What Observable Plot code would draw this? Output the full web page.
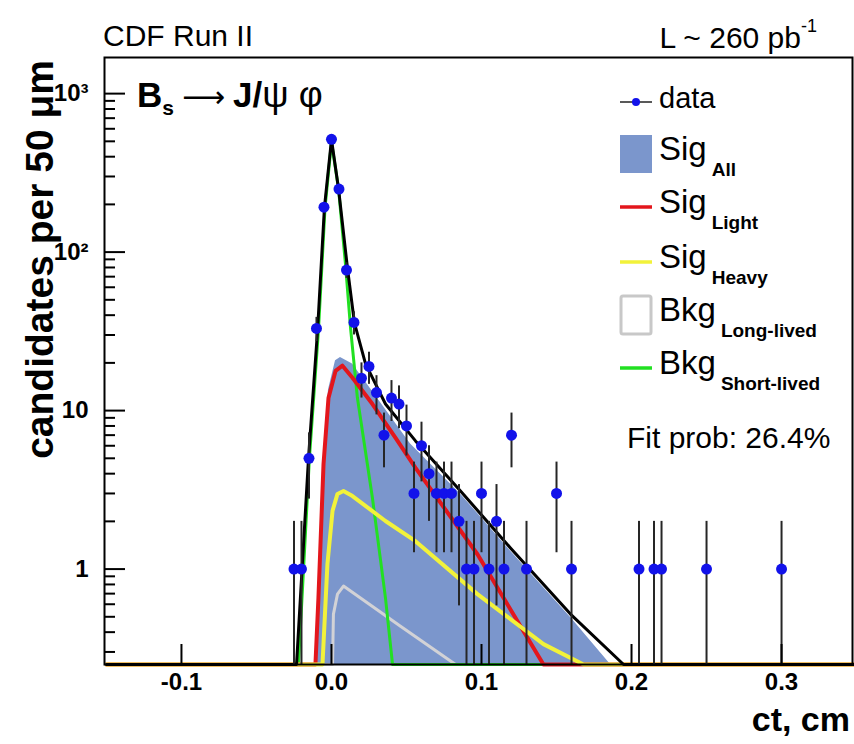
<!DOCTYPE html>
<html><head><meta charset="utf-8">
<script src="https://cdn.jsdelivr.net/npm/d3@7"></script>
<script src="https://cdn.jsdelivr.net/npm/@observablehq/plot@0.6"></script>
<style>html,body{margin:0;padding:0;background:#fff} svg{display:block}</style>
</head><body><div id="chart"></div>
<script>
// ---- data: B_s -> J/psi phi proper decay length (ct, cm), candidates per 50 um ----
const dataCt = [-0.025,-0.02,-0.015,-0.01,-0.005,0,0.005,0.01,0.015,0.02,0.025,0.03,0.035,0.04,0.045,0.05,0.055,0.06,0.065,0.07,0.075,0.08,0.085,0.09,0.095,0.1,0.105,0.11,0.115,0.12,0.13,0.15,0.16,0.205,0.215,0.22,0.25,0.3];
const dataN  = [1,1,5,33,192,515,250,77,36,16,19,13,7,12,11,8,3,6,4,3,3,3,2,1,1,3,1,2,1,7,1,3,1,1,1,1,1,1];

// fit curves
const totalCt  = [-0.15,-0.0233,-0.0153,-0.0093,-0.0047,0,0.0047,0.0107,0.0153,0.0227,0.036,0.056,0.086,0.1193,0.1593,0.1947,0.35];
const totalVal = [0.25,0.25,5.03,31.9,190.7,513,251,78.5,35.8,19.7,11.0,6.44,3.11,1.36,0.52,0.25,0.25];

const sigAllCt  = [-0.0107,-0.0087,-0.0053,-0.002,0.0027,0.006,0.014,0.0247,0.0527,0.086,0.1193,0.1593,0.186];
const sigAllVal = [0.25,0.75,5.0,13.5,20.6,21.6,19.7,14.3,6.16,2.98,1.30,0.497,0.25];

const sigLightCt  = [-0.15,-0.0107,-0.0087,-0.0053,-0.002,0.0027,0.0073,0.014,0.0273,0.0427,0.056,0.0973,0.1413,0.35];
const sigLightVal = [0.25,0.25,0.656,4.61,12.0,17.8,19.2,16.1,11.0,6.72,4.35,1.24,0.25,0.25];

const sigHeavyCt  = [-0.15,-0.006,-0.0027,0.0007,0.004,0.008,0.014,0.036,0.056,0.0973,0.1413,0.168,0.35];
const sigHeavyVal = [0.25,0.25,1.075,2.33,2.98,3.11,2.89,2.01,1.50,0.695,0.336,0.25,0.25];

const bkgLongCt  = [-0.15,0.0007,0.0013,0.004,0.008,0.046,0.0827,0.35];
const bkgLongVal = [0.25,0.25,0.52,0.695,0.781,0.436,0.25,0.25];

const bkgShortCt  = [-0.15,-0.022,-0.0147,-0.0087,-0.0043,0,0.0047,0.0093,0.0127,0.0173,0.0273,0.036,0.0407,0.35];
const bkgShortVal = [0.25,0.25,5.03,31.9,190.7,495,251,84.5,33.3,12.0,2.81,0.656,0.25,0.25];

const xTickValues = [-0.1,0,0.1,0.2,0.3];
const yTickValues = [1,10,100,1000];
const yTickLabels = ["1","10","10²","10³"];
const yMinorTicks = [0.3,0.4,0.5,0.6,0.7,0.8,0.9,2,3,4,5,6,7,8,9,20,30,40,50,60,70,80,90,200,300,400,500,600,700,800,900];

const legendEntries = [
  {main:"data", sub:"", kind:"data"},
  {main:"Sig", sub:"All", kind:"box", color:"#7b96cc"},
  {main:"Sig", sub:"Light", kind:"line", color:"#e3161c"},
  {main:"Sig", sub:"Heavy", kind:"line", color:"#f2f23a"},
  {main:"Bkg", sub:"Long-lived", kind:"hollow", color:"#c8c8c8"},
  {main:"Bkg", sub:"Short-lived", kind:"line", color:"#22e022"}
];

// ---- build tables ----
const zip = (xs, ys) => xs.map((x, i) => ({ct: x, v: ys[i]}));
const points = dataCt.map((x, i) => {
  const n = dataN[i], e = Math.sqrt(n);
  return {ct: x, n, lo: Math.max(n - e, 0.25), hi: n + e};
});
const YMIN = 0.25;
const W = 854, H = 744, ML = 104, MR = 2, MT = 57, MB = 80;
const frameW = W - ML - MR, frameH = H - MT - MB;
const FONT = "Liberation Sans, Arial, Helvetica, sans-serif";

const plot = Plot.plot({
  width: W, height: H,
  marginLeft: ML, marginRight: MR, marginTop: MT, marginBottom: MB,
  style: {fontFamily: FONT, background: "white", color: "black"},
  x: {domain: [-0.1513, 0.3473]},
  y: {type: "log", domain: [YMIN, 1690], clamp: true},
  marks: [
    Plot.areaY(zip(sigAllCt, sigAllVal), {x: "ct", y1: () => YMIN, y2: "v", fill: "#7b96cc"}),
    Plot.line(zip(bkgLongCt, bkgLongVal), {x: "ct", y: "v", stroke: "#d2d2d6", strokeWidth: 3}),
    Plot.line(zip(bkgShortCt, bkgShortVal), {x: "ct", y: "v", stroke: "#22e022", strokeWidth: 3}),
    Plot.line(zip(sigLightCt, sigLightVal), {x: "ct", y: "v", stroke: "#e3161c", strokeWidth: 4}),
    Plot.line(zip(sigHeavyCt, sigHeavyVal), {x: "ct", y: "v", stroke: "#f2f23a", strokeWidth: 4}),
    Plot.line(zip(totalCt, totalVal), {x: "ct", y: "v", stroke: "black", strokeWidth: 3}),
    Plot.ruleX(points, {x: "ct", y1: "lo", y2: "hi", stroke: "#262626", strokeWidth: 2}),
    Plot.dot(points, {x: "ct", y: "n", r: 5.5, fill: "#1212ea", stroke: "none"}),
    // tick labels
    Plot.axisX({ticks: xTickValues, tickSize: 0, tickPadding: 8, tickFormat: d => d.toFixed(1), fontSize: 24, fontWeight: "bold", label: null}),
    Plot.axisY({ticks: yTickValues, tickSize: 0, tickPadding: 16, tickFormat: d => yTickLabels[yTickValues.indexOf(d)], fontSize: 24, fontWeight: "bold", label: null}),
    Plot.frame({stroke: "black", strokeWidth: 2}),
    // inward ticks (ROOT style), drawn over the frame
    Plot.tickX(xTickValues, {x: d => d, insetTop: frameH - 20, stroke: "black", strokeWidth: 2}),
    Plot.tickY(yTickValues, {y: d => d, insetRight: frameW - 21, stroke: "black", strokeWidth: 2}),
    Plot.tickY(yMinorTicks, {y: d => d, insetRight: frameW - 11, stroke: "black", strokeWidth: 2})
  ]
});
document.getElementById("chart").appendChild(plot);

// ---- annotations & legend ----
const svg = d3.select(plot);
const g = svg.append("g").attr("font-family", FONT).attr("fill", "black").attr("text-anchor", "start");

g.append("text").attr("x", 103).attr("y", 46).attr("font-size", 30).text("CDF Run II");
const lum = g.append("text").attr("x", 817).attr("y", 48).attr("font-size", 30).attr("text-anchor", "end");
lum.append("tspan").text("L ~ 260 pb");
lum.append("tspan").attr("dy", -16).attr("font-size", 18).text("-1");

const title = g.append("text").attr("x", 137).attr("y", 107).attr("font-size", 35).attr("font-weight", "bold");
title.append("tspan").text("B");
title.append("tspan").attr("dy", 8).attr("font-size", 21).text("s");
title.append("tspan").attr("dy", -8).attr("dx", 8).attr("font-weight", "normal")
  .attr("font-family", "DejaVu Sans, sans-serif").attr("font-size", 30).text("⟶");
title.append("tspan").attr("dx", 8).text("J/");
title.append("tspan").attr("font-weight", "normal").attr("font-size", 37).text("ψ φ");

g.append("text").attr("transform", "translate(53,60) rotate(-90)").attr("text-anchor", "end")
  .attr("font-size", 39).attr("font-weight", "bold").text("candidates per 50 μm");
g.append("text").attr("x", 850).attr("y", 731).attr("text-anchor", "end")
  .attr("font-size", 34).attr("font-weight", "bold").text("ct, cm");

const legendY = [102, 154, 207, 262, 315, 368];
legendEntries.forEach((e, i) => {
  const cy = legendY[i];
  if (e.kind === "data") {
    g.append("line").attr("x1", 620).attr("x2", 652).attr("y1", cy).attr("y2", cy).attr("stroke", "#222").attr("stroke-width", 1.5);
    g.append("circle").attr("cx", 636).attr("cy", cy).attr("r", 4).attr("fill", "#1212ea");
  } else if (e.kind === "box") {
    g.append("rect").attr("x", 620).attr("y", cy - 19).attr("width", 32).attr("height", 38).attr("fill", e.color);
  } else if (e.kind === "hollow") {
    g.append("rect").attr("x", 621).attr("y", cy - 19).attr("width", 30).attr("height", 38).attr("rx", 2)
      .attr("fill", "white").attr("stroke", e.color).attr("stroke-width", 3);
  } else {
    g.append("line").attr("x1", 620).attr("x2", 652).attr("y1", cy).attr("y2", cy).attr("stroke", e.color).attr("stroke-width", 3.5);
  }
  const t = g.append("text").attr("x", 659).attr("y", cy + 6).attr("font-size", e.kind === "data" ? 29 : 33).text(e.main);
  if (e.sub) t.append("tspan").attr("dx", 5).attr("dy", 16).attr("font-size", 19).attr("font-weight", "bold").text(e.sub);
});
g.append("text").attr("x", 627).attr("y", 448).attr("font-size", 30).text("Fit prob: 26.4%");
</script>
</body></html>
